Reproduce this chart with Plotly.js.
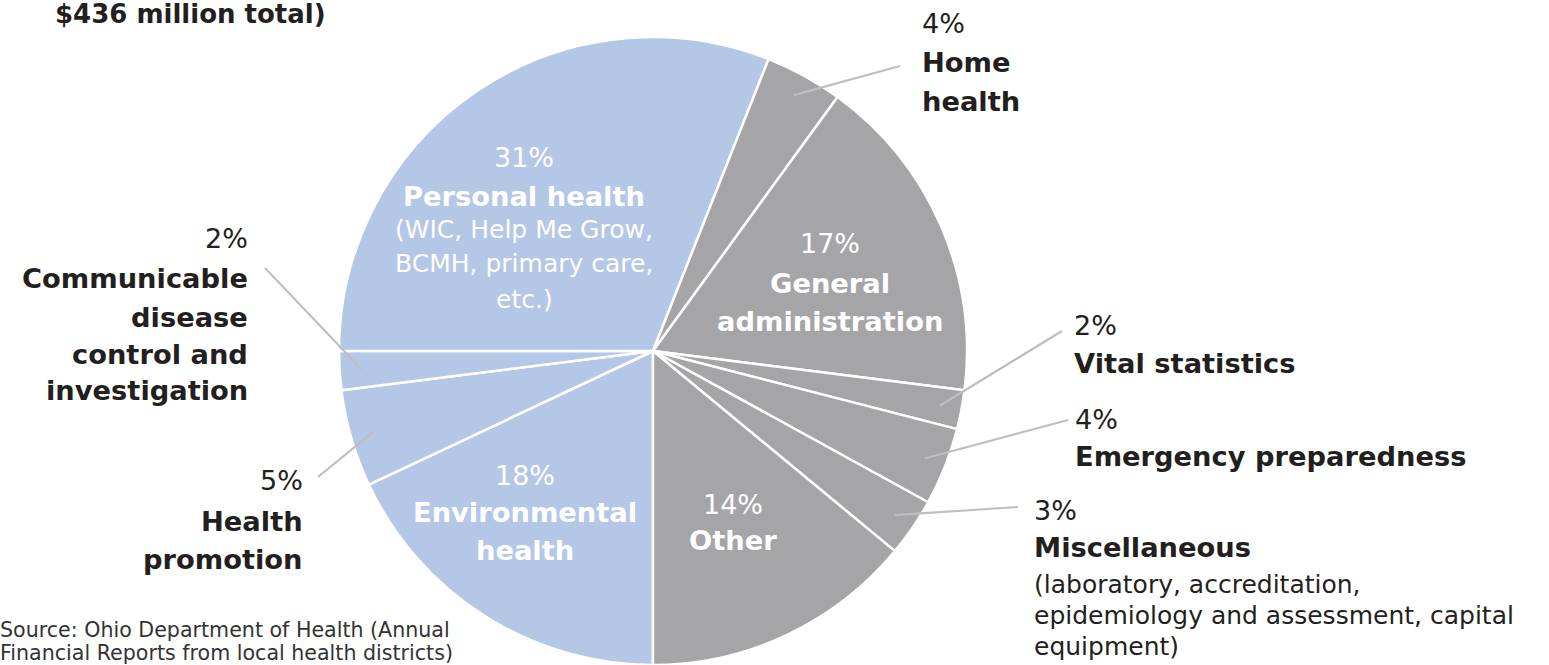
<!DOCTYPE html>
<html>
<head>
<meta charset="utf-8">
<script src="https://cdn.plot.ly/plotly-3.0.1.min.js"></script>
<style>
  html, body { margin: 0; padding: 0; background: #fff; overflow: hidden; }
  #chart { width: 1549px; height: 665px; }
</style>
</head>
<body>
<div id="chart"></div>
<script>
// slices in drawing order, clockwise starting at 6 o'clock
const programs = ['Environmental health', 'Health promotion', 'Communicable disease control and investigation',
    'Personal health', 'Home health', 'General administration', 'Vital statistics',
    'Emergency preparedness', 'Miscellaneous', 'Other'];
const shares = [18, 5, 2, 31, 4, 17, 2, 4, 3, 14];
const nameLines = [['Environmental', 'health'], ['Health', 'promotion'], ['Communicable', 'disease', 'control and', 'investigation'],
    ['Personal health'], ['Home', 'health'], ['General', 'administration'], ['Vital statistics'],
    ['Emergency preparedness'], ['Miscellaneous'], ['Other']];
const noteLines = [[], [], [], ['(WIC, Help Me Grow,', 'BCMH, primary care,', 'etc.)'], [], [], [], [],
    ['(laboratory, accreditation,', 'epidemiology and assessment, capital', 'equipment)'], []];
const titleText = '$436 million total)';
const sourceLines = ['Source: Ohio Department of Health (Annual', 'Financial Reports from local health districts)'];

// styling / placement
const W = 1549, H = 665;
const blue = '#b4c7e7', grey = '#a5a5a8', ink = '#231f20', leadColor = '#bfbfbf';
const sliceColors = [blue, blue, blue, blue, grey, grey, grey, grey, grey, grey];
const font = 'DejaVu Sans';
const pie = {cx: 653, cy: 351, r: 314};

// label block placement: x, anchor, y of each line (pixels), inside or not, leader end
const place = [
    {x: 525, anchor: 'center', ys: [475, 512, 550], inside: true},
    {x: 305, anchor: 'right', ys: [481, 521, 559], lead: [318, 477]},
    {x: 250, anchor: 'right', ys: [238, 278, 317, 354, 390], lead: [265, 268]},
    {x: 524, anchor: 'center', ys: [157, 196, 229, 263, 299], inside: true},
    {x: 920, anchor: 'left', ys: [24, 63, 102], lead: [900, 66]},
    {x: 830, anchor: 'center', ys: [243, 283, 321], inside: true},
    {x: 1072, anchor: 'left', ys: [325, 363], lead: [1062, 331]},
    {x: 1073, anchor: 'left', ys: [419, 456], lead: [1068, 420]},
    {x: 1032, anchor: 'left', ys: [511, 547, 584, 615, 646], lead: [1018, 507]},
    {x: 733, anchor: 'center', ys: [504, 540], inside: true}
];

const px = x => x / W;
const py = y => 1 - y / H;

let annotations = [];
let shapes = [];

function addText(text, x, y, anchor, size, color) {
    annotations.push({
        text: text, x: px(x), y: py(y), xref: 'paper', yref: 'paper',
        xanchor: anchor, yanchor: 'middle', showarrow: false,
        font: {family: font, size: size, color: color}
    });
}

let total = shares.reduce((a, b) => a + b, 0);
let start = 180;
for (let i = 0; i < shares.length; i++) {
    let sweep = shares[i] / total * 360;
    let mid = (start + sweep / 2) * Math.PI / 180;
    start += sweep;

    let p = place[i];
    let color = p.inside ? '#ffffff' : ink;
    let k = 0;
    addText(shares[i] + '%', p.x, p.ys[k++], p.anchor, 27, color);
    for (let j = 0; j < nameLines[i].length; j++) {
        addText('<b>' + nameLines[i][j] + '</b>', p.x, p.ys[k++], p.anchor, 27.3, color);
    }
    for (let j = 0; j < noteLines[i].length; j++) {
        addText(noteLines[i][j], p.x, p.ys[k++], p.anchor, 25, color);
    }

    if (p.lead) {
        let rho = pie.r * 0.93;
        let ix = pie.cx + rho * Math.sin(mid);
        let iy = pie.cy - rho * Math.cos(mid);
        shapes.push({
            type: 'line', xref: 'paper', yref: 'paper',
            x0: px(ix), y0: py(iy), x1: px(p.lead[0]), y1: py(p.lead[1]),
            line: {color: leadColor, width: 2.2}
        });
    }
}

addText('<b>' + titleText + '</b>', 53, 14, 'left', 26, ink);
addText(sourceLines[0], -2, 630, 'left', 20.6, '#333333');
addText(sourceLines[1], -2, 653, 'left', 20.6, '#333333');

let data = [{
    type: 'pie',
    values: shares,
    labels: programs,
    sort: false,
    direction: 'clockwise',
    rotation: 180,
    textinfo: 'none',
    hoverinfo: 'label+percent',
    showlegend: false,
    marker: {colors: sliceColors, line: {color: '#ffffff', width: 2.5}},
    domain: {x: [px(pie.cx - pie.r), px(pie.cx + pie.r)], y: [py(pie.cy + pie.r), py(pie.cy - pie.r)]}
}];

let layout = {
    width: W,
    height: H,
    margin: {l: 0, r: 0, t: 0, b: 0},
    paper_bgcolor: '#ffffff',
    showlegend: false,
    annotations: annotations,
    shapes: shapes
};

Plotly.newPlot('chart', data, layout, {displayModeBar: false, staticPlot: true});
</script>
</body>
</html>
